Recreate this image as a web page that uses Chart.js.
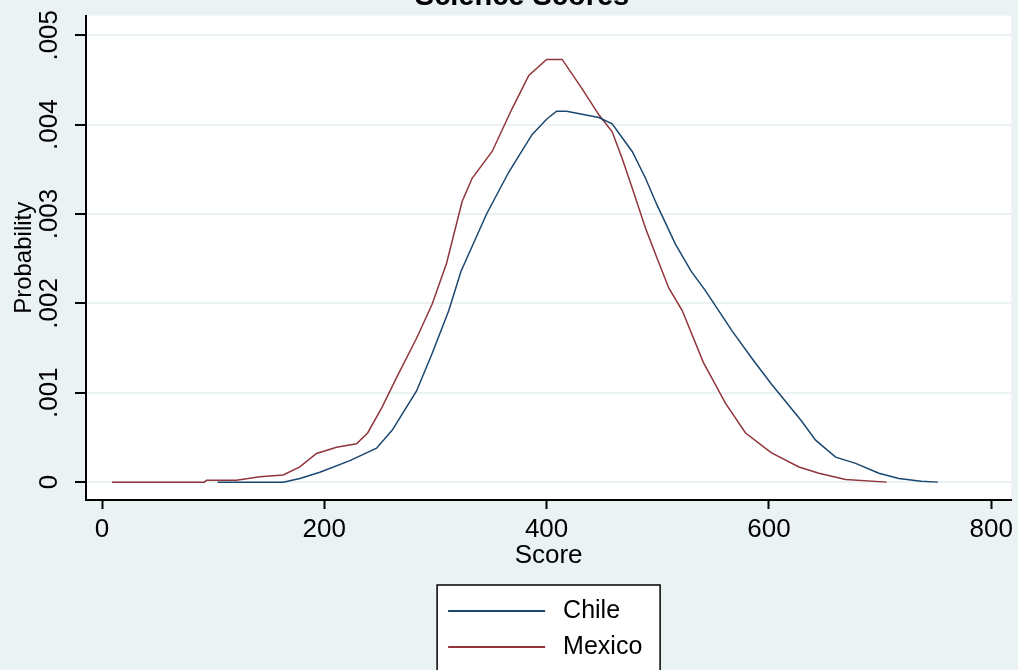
<!DOCTYPE html>
<html>
<head>
<meta charset="utf-8">
<script src="https://cdn.jsdelivr.net/npm/chart.js@4"></script>
<style>
  html, body { margin: 0; padding: 0; background: #eaf2f3; }
  #wrap { width: 1018px; height: 670px; }
</style>
</head>
<body>
<div id="wrap"><canvas id="scoreChart" width="1018" height="670"></canvas></div>
<script>
const chartTitle = 'Science Scores';
const xTicks = [0, 200, 400, 600, 800];
const yTicks = [0, 0.001, 0.002, 0.003, 0.004, 0.005];

const chileScore = [104, 163, 178, 196, 223, 247, 261, 283, 297, 312, 323, 346, 366, 387, 400, 409, 418, 447, 459, 477, 489, 499, 516, 530, 543, 567, 585, 602, 629, 642, 660, 678, 699, 717, 737, 752];
const chileDensity = [0, 0, 0.00004, 0.00011, 0.00024, 0.00038, 0.00058, 0.00102, 0.00144, 0.00192, 0.00236, 0.0030, 0.00347, 0.00389, 0.00406, 0.00415, 0.00415, 0.00408, 0.00401, 0.0037, 0.0034, 0.00311, 0.00266, 0.00236, 0.00214, 0.00169, 0.00138, 0.0011, 0.00069, 0.00047, 0.00028, 0.00021, 0.0001, 0.00004, 0.00001, 0];

const mexicoScore = [9, 92, 94, 121, 142, 163, 178, 193, 211, 229, 239, 252, 265, 283, 297, 310, 324, 333, 351, 369, 384, 400, 414, 432, 447, 459, 468, 477, 489, 498, 510, 522, 541, 561, 579, 602, 627, 645, 669, 706];
const mexicoDensity = [0, 0, 0.00002, 0.00002, 0.00006, 0.00008, 0.00017, 0.00032, 0.00039, 0.00043, 0.00055, 0.00084, 0.00117, 0.00161, 0.00199, 0.00245, 0.00314, 0.0034, 0.0037, 0.00418, 0.00455, 0.00473, 0.00473, 0.0044, 0.00411, 0.00392, 0.00362, 0.00329, 0.00284, 0.00255, 0.00217, 0.00192, 0.00134, 0.00088, 0.00055, 0.00033, 0.00017, 0.0001, 0.00003, 0];

const toPoints = (xs, ys) => xs.map((x, i) => ({ x: x, y: ys[i] }));

// fondo gris claro y area del grafico blanca
const backgroundPlugin = {
    id: 'background',
    beforeDraw: function(chart) {
        const ctx = chart.ctx;
        const a = chart.chartArea;
        ctx.save();
        ctx.fillStyle = '#eaf2f3';
        ctx.fillRect(0, 0, chart.width, chart.height);
        ctx.fillStyle = '#ffffff';
        ctx.fillRect(a.left, a.top, a.right - a.left, a.bottom - a.top);
        ctx.restore();
    }
};

// titulo recortado arriba, como en la imagen
const titlePlugin = {
    id: 'cutTitle',
    afterDraw: function(chart) {
        const ctx = chart.ctx;
        ctx.save();
        ctx.fillStyle = '#000';
        ctx.font = 'bold 29px Arial, "Liberation Sans", sans-serif';
        ctx.textAlign = 'center';
        ctx.textBaseline = 'alphabetic';
        ctx.fillText(chartTitle, 522, 5);
        ctx.restore();
    }
};

// leyenda con caja, dos filas
const boxLegendPlugin = {
    id: 'boxLegend',
    afterDraw: function(chart) {
        const ctx = chart.ctx;
        const a = chart.chartArea;
        const boxW = 223;
        const left = (a.left + a.right) / 2 - boxW / 2;
        const top = 585;
        ctx.save();
        ctx.fillStyle = '#ffffff';
        ctx.fillRect(left, top, boxW, 100);
        ctx.strokeStyle = '#000';
        ctx.lineWidth = 1.5;
        ctx.strokeRect(left, top, boxW, 100);
        ctx.font = '25px Arial, "Liberation Sans", sans-serif';
        ctx.textBaseline = 'middle';
        ctx.textAlign = 'left';
        chart.data.datasets.forEach((ds, i) => {
            const y = top + 26 + i * 36;
            ctx.strokeStyle = ds.borderColor;
            ctx.lineWidth = 2;
            ctx.beginPath();
            ctx.moveTo(left + 11, y);
            ctx.lineTo(left + 108, y);
            ctx.stroke();
            ctx.fillStyle = '#000';
            ctx.fillText(ds.label, left + 126, y);
        });
        ctx.restore();
    }
};

const ctx = document.getElementById('scoreChart').getContext('2d');
const scoreChart = new Chart(ctx, {
    type: 'scatter',
    data: {
        datasets: [{
            label: 'Chile',
            data: toPoints(chileScore, chileDensity),
            showLine: true,
            borderColor: '#1a476f',
            backgroundColor: '#1a476f',
            borderWidth: 1.5,
            pointRadius: 0,
            tension: 0
        }, {
            label: 'Mexico',
            data: toPoints(mexicoScore, mexicoDensity),
            showLine: true,
            borderColor: '#90353b',
            backgroundColor: '#90353b',
            borderWidth: 1.5,
            pointRadius: 0,
            tension: 0
        }]
    },
    options: {
        responsive: false,
        animation: false,
        layout: {
            padding: { left: 0, top: 13, right: 5, bottom: 99 }
        },
        scales: {
            x: {
                type: 'linear',
                min: -14.4,
                max: 818,
                afterBuildTicks: function(scale) {
                    scale.ticks = xTicks.map(v => ({ value: v }));
                },
                afterFit: function(scale) {
                    scale.height = 71;
                },
                grid: {
                    drawOnChartArea: false,
                    tickLength: 9,
                    tickColor: '#000',
                    tickWidth: 2
                },
                border: { color: '#000', width: 2 },
                ticks: {
                    color: '#000',
                    padding: 5,
                    font: { family: 'Arial, "Liberation Sans", sans-serif', size: 26 },
                    callback: v => String(v)
                },
                title: {
                    display: true,
                    text: 'Score',
                    color: '#000',
                    padding: { top: 0, bottom: 0 },
                    font: { family: 'Arial, "Liberation Sans", sans-serif', size: 26 }
                }
            },
            y: {
                type: 'linear',
                min: -0.0002,
                max: 0.00522,
                afterBuildTicks: function(scale) {
                    scale.ticks = yTicks.map(v => ({ value: v }));
                },
                afterFit: function(scale) {
                    scale.width = 86;
                },
                grid: {
                    color: '#eaf2f3',
                    lineWidth: 2,
                    tickLength: 11,
                    tickColor: '#000',
                    tickWidth: 2
                },
                border: { color: '#000', width: 2 },
                ticks: {
                    color: '#000',
                    padding: 0,
                    minRotation: 90,
                    maxRotation: 90,
                    crossAlign: 'center',
                    font: { family: 'Arial, "Liberation Sans", sans-serif', size: 26 },
                    callback: v => v === 0 ? '0' : v.toFixed(3).replace(/^0/, '')
                },
                title: {
                    display: true,
                    text: 'Probability',
                    color: '#000',
                    padding: { top: 10, bottom: 0 },
                    font: { family: 'Arial, "Liberation Sans", sans-serif', size: 24 }
                }
            }
        },
        plugins: {
            legend: { display: false },
            tooltip: { enabled: false }
        }
    },
    plugins: [backgroundPlugin, titlePlugin, boxLegendPlugin]
});
</script>
</body>
</html>
